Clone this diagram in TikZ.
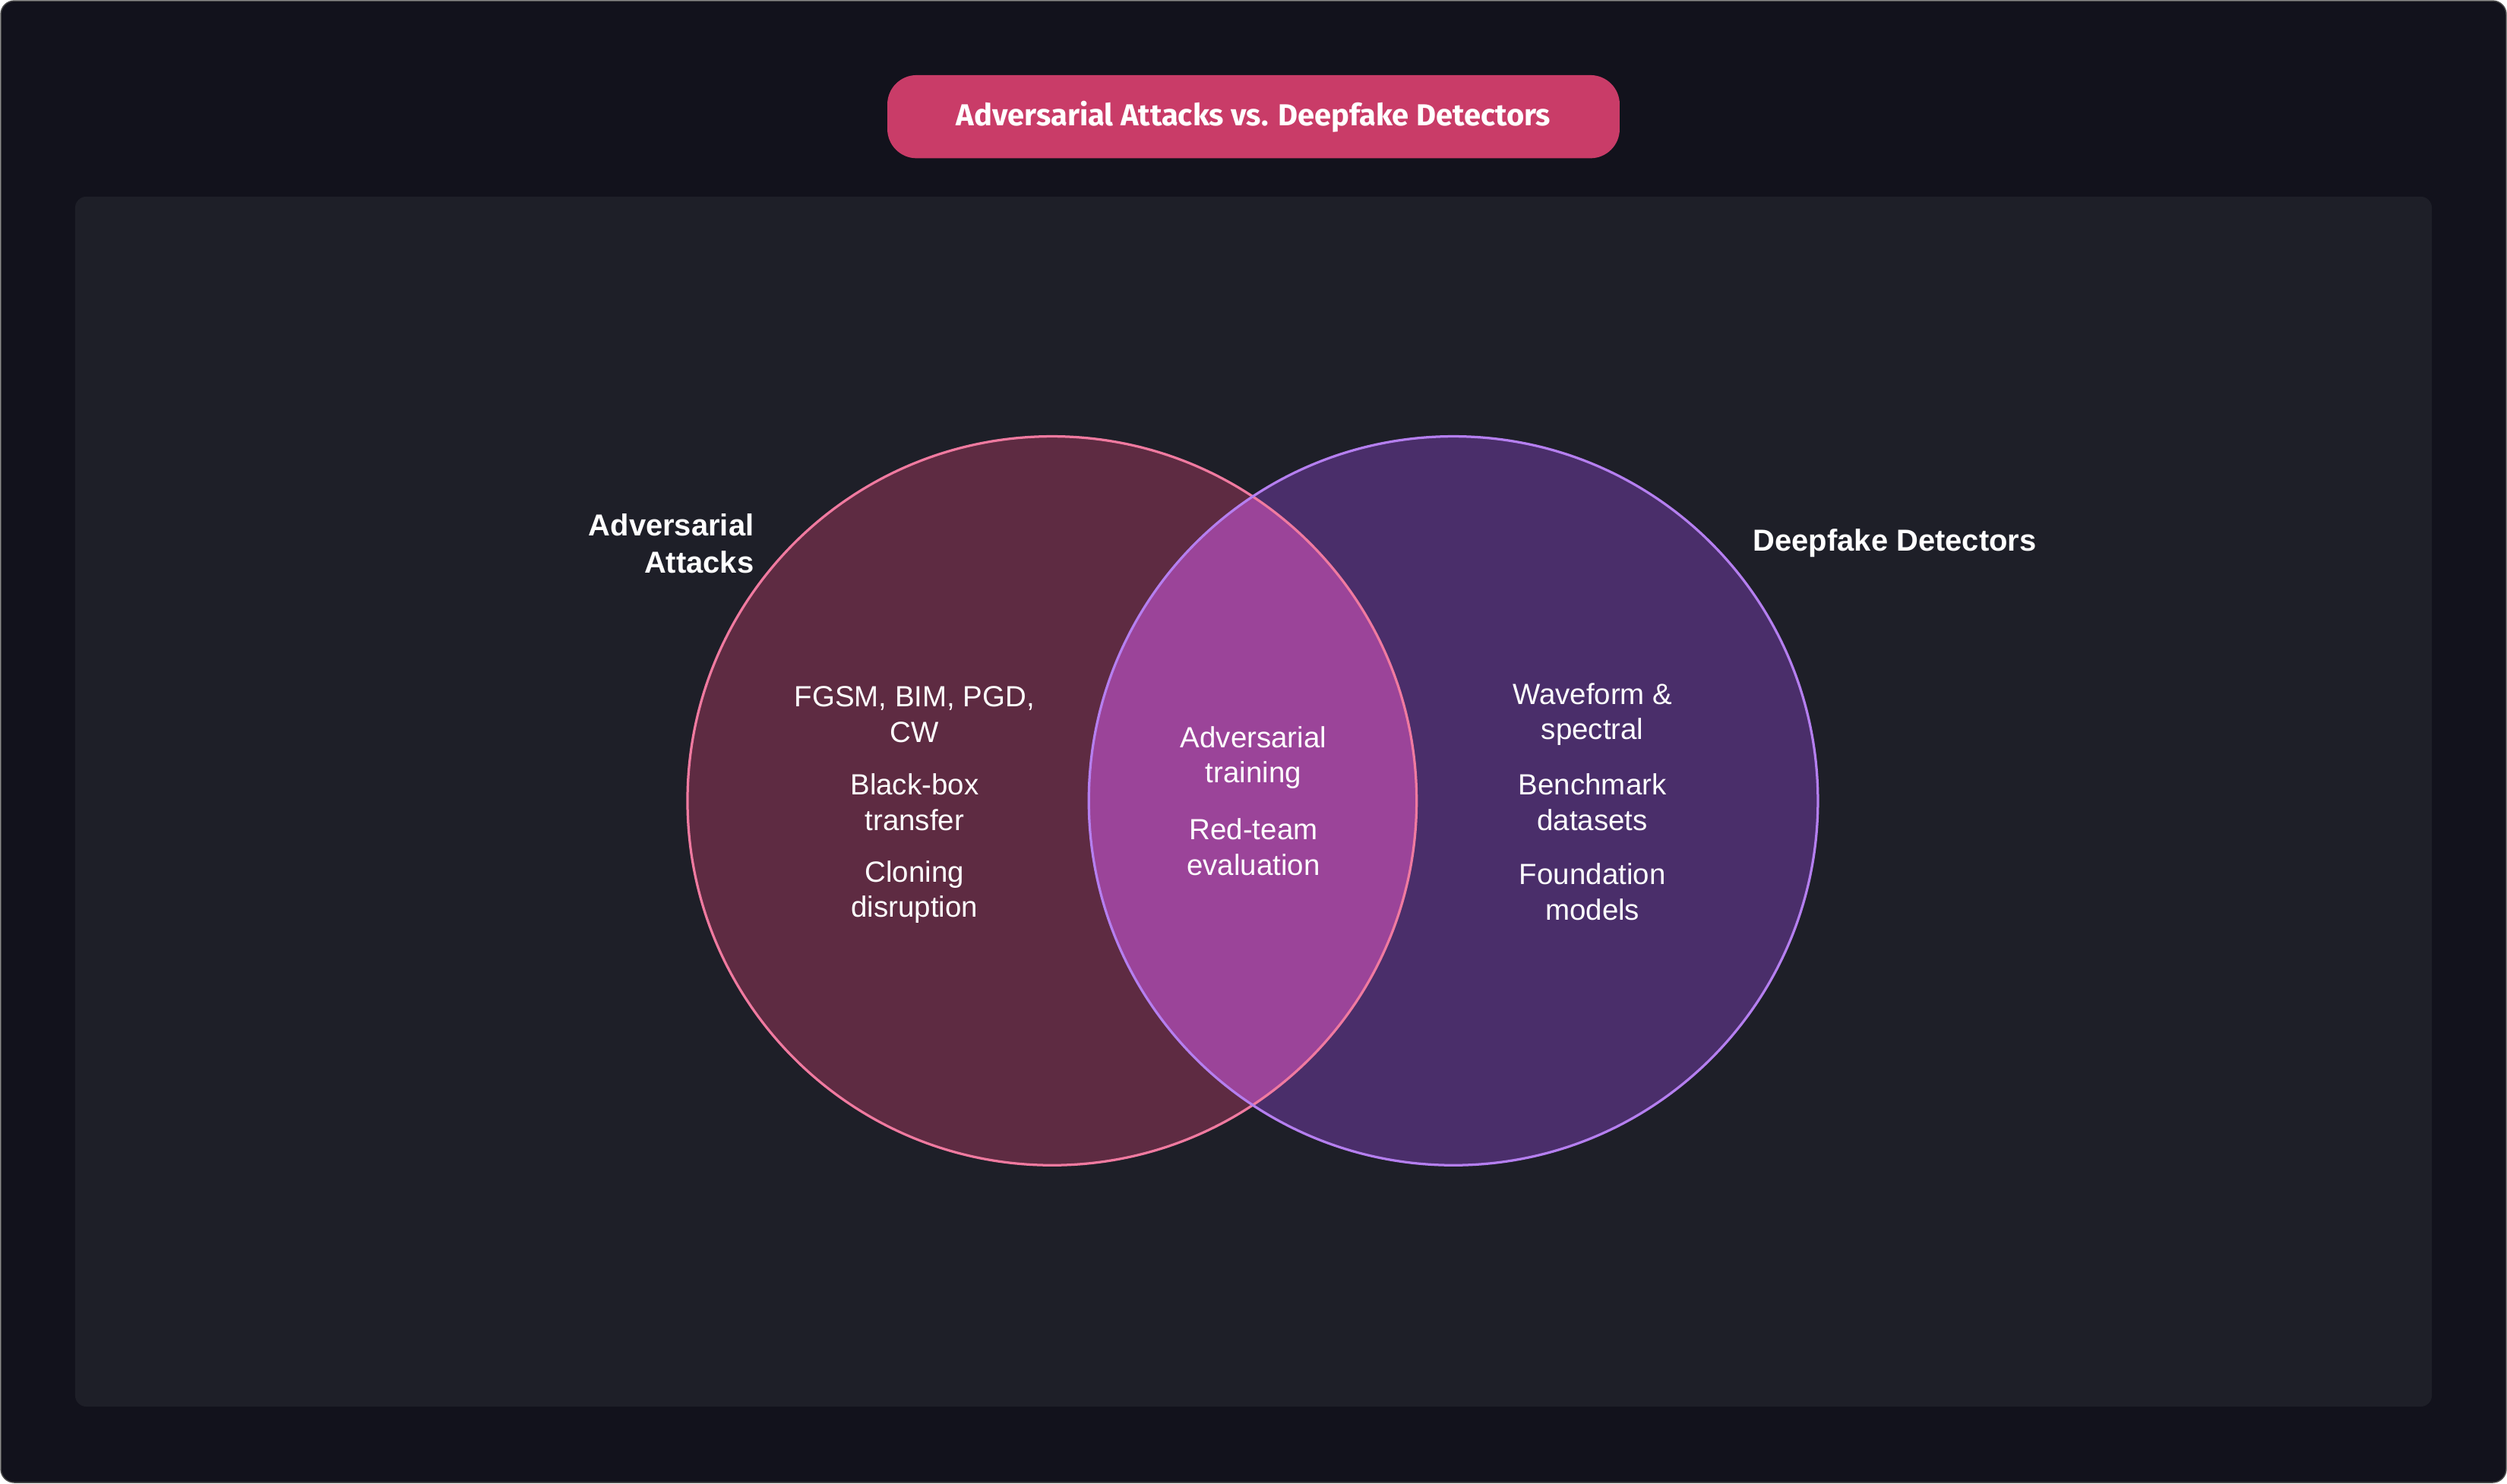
\documentclass[tikz,border=0pt]{standalone}
\usepackage{fontspec}
\setmainfont{Liberation Sans}
\newfontfamily\titlefont{Fira Sans}
\definecolor{bgout}{HTML}{12121C}
\definecolor{bgin}{HTML}{1E1F28}
\definecolor{pill}{HTML}{C93C68}
\definecolor{lfill}{HTML}{5E2B42}
\definecolor{rfill}{HTML}{4A2E6A}
\definecolor{mfill}{HTML}{9B4499}
\definecolor{lstroke}{HTML}{F07AA0}
\definecolor{rstroke}{HTML}{B57FF0}
\begin{document}
\begin{tikzpicture}[x=0.05cm,y=-0.05cm,
  body/.style={text=white,align=center,font=\fontsize{26}{31.5}\selectfont},
  head/.style={text=white,font=\bfseries\fontsize{27}{33}\selectfont}]
\useasboundingbox (0,0) rectangle (1568,928);
\fill[bgout,draw=gray!60!black,line width=1pt,rounded corners=12] (0.5,0.5) rectangle (1567.5,927.5);
\fill[bgin,rounded corners=10] (47,123) rectangle (1521,880);
\node[fill=pill,rounded corners=26,minimum width=458*0.05cm,minimum height=52*0.05cm,text=white,font=\titlefont\bfseries\fontsize{27}{32}\selectfont] (title) at (784,73) {Adversarial Attacks vs. Deepfake Detectors};
\fill[lfill] (658,501) circle (228);
\fill[rfill] (909,501) circle (228);
\begin{scope}
\clip (658,501) circle (228);
\fill[mfill] (909,501) circle (228);
\end{scope}
\draw[lstroke,line width=2.2pt] (658,501) circle (228);
\draw[rstroke,line width=2.2pt] (909,501) circle (228);
\node[head,align=right,anchor=east] (la) at (474,340) {Adversarial\\Attacks};
\node[head,anchor=west] (ra) at (1094,340) {Deepfake Detectors};
\node[body] (l1) at (572,447) {FGSM, BIM, PGD,\\CW};
\node[body] (l2) at (572,502) {Black-box\\transfer};
\node[body] (l3) at (572,558) {Cloning\\disruption};
\node[body] (m1) at (784,474) {Adversarial\\training};
\node[body] (m2) at (784,530) {Red-team\\evaluation};
\node[body] (r1) at (996,447) {Waveform \&\\spectral};
\node[body] (r2) at (996,502) {Benchmark\\datasets};
\node[body] (r3) at (996,558) {Foundation\\models};
\end{tikzpicture}
\end{document}
